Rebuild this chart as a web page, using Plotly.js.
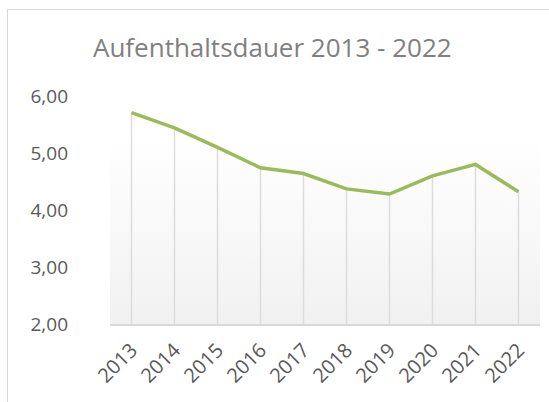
<!DOCTYPE html>
<html>
<head>
<meta charset="utf-8">
<script src="https://cdn.plot.ly/plotly-3.0.1.min.js"></script>
<style>
  html, body { margin: 0; padding: 0; background: #ffffff; }
  #frame { position: absolute; left: 0; top: 0; width: 549px; height: 402px; }
  #border { position: absolute; left: 7px; top: 9px; width: 542px; height: 393px;
            border-left: 1px solid #d9d9d9; border-top: 1px solid #d9d9d9; box-sizing: border-box; pointer-events: none; }
  #chart { position: absolute; left: 0; top: 0; width: 549px; height: 402px; }
</style>
</head>
<body>
<div id="frame">
  <div id="chart"></div>
  <div id="border"></div>
</div>
<script>
const years = ["2013", "2014", "2015", "2016", "2017", "2018", "2019", "2020", "2021", "2022"];
const dauer = [5.71, 5.44, 5.10, 4.74, 4.64, 4.37, 4.28, 4.60, 4.80, 4.32];
const axisMin = 2;
const axisMax = 6;
const titleText = "Aufenthaltsdauer 2013 - 2022";

const dropLengths = dauer.map(v => v - axisMin);
const zeros = dauer.map(() => 0);

const gradSvg = '<svg xmlns="http://www.w3.org/2000/svg" width="100" height="100" preserveAspectRatio="none">' +
  '<defs><linearGradient id="g" x1="0" y1="0" x2="0" y2="1">' +
  '<stop offset="0" stop-color="#ffffff"/><stop offset="0.2" stop-color="#ffffff"/><stop offset="1" stop-color="#f1f1f1"/>' +
  '</linearGradient></defs><rect width="100" height="100" fill="url(#g)"/></svg>';
const gradUri = 'data:image/svg+xml;base64,' + btoa(gradSvg);

const trace = {
  x: years,
  y: dauer,
  type: 'scatter',
  mode: 'lines',
  line: { color: '#9bbb59', width: 3.5 },
  error_y: {
    type: 'data',
    symmetric: false,
    array: zeros,
    arrayminus: dropLengths,
    color: '#dcdcdc',
    thickness: 1.5,
    width: 0
  },
  hoverinfo: 'skip'
};

const layout = {
  width: 549,
  height: 402,
  margin: { l: 110, r: 9, t: 96, b: 78 },
  paper_bgcolor: 'rgba(0,0,0,0)',
  plot_bgcolor: 'rgba(0,0,0,0)',
  separators: ',.',
  showlegend: false,
  font: { family: 'Open Sans, sans-serif', color: '#595959' },
  title: {
    text: titleText,
    font: { family: 'Open Sans, sans-serif', size: 26, color: '#808080' },
    x: 0.496, xref: 'container', xanchor: 'center',
    y: 48, yref: 'container', yanchor: 'middle'
  },
  xaxis: {
    type: 'category',
    range: [-0.5, 9.5],
    showgrid: false,
    zeroline: false,
    showline: true,
    linecolor: '#d9d9d9',
    linewidth: 1.5,
    ticks: '',
    tickangle: -45,
    ticklabelstandoff: 5,
    tickfont: { size: 20, color: '#595959' },
    fixedrange: true
  },
  yaxis: {
    range: [axisMin, axisMax],
    tickvals: [2, 3, 4, 5, 6],
    tickformat: '.2f',
    showgrid: false,
    zeroline: false,
    showline: false,
    ticks: '',
    ticklabelstandoff: 41,
    tickfont: { size: 19, color: '#595959' },
    fixedrange: true
  },
  images: [{
    source: gradUri,
    xref: 'paper', yref: 'paper',
    x: 0, y: 1, sizex: 1, sizey: 1,
    xanchor: 'left', yanchor: 'top',
    sizing: 'stretch',
    layer: 'below'
  }]
};

Plotly.newPlot('chart', [trace], layout, { displayModeBar: false, staticPlot: true });
</script>
</body>
</html>
